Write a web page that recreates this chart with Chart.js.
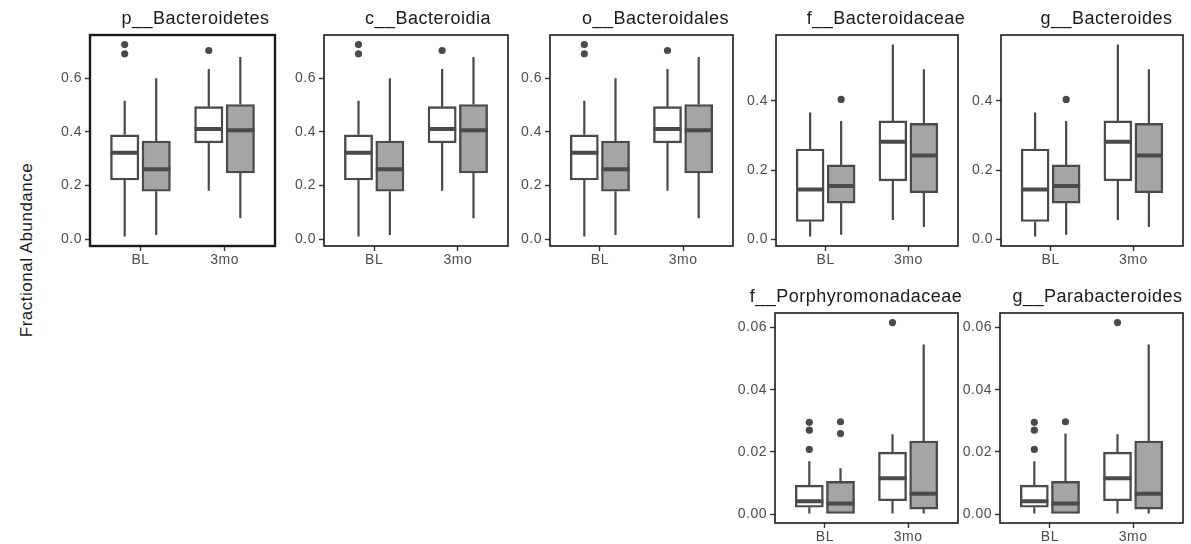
<!DOCTYPE html>
<html>
<head>
<meta charset="utf-8">
<title>Fractional Abundance boxplots</title>
<script src="https://cdn.jsdelivr.net/npm/chart.js@4.4.1/dist/chart.umd.min.js"></script>
<style>
  html, body { margin: 0; padding: 0; background: #fff; }
  body { position: relative; width: 1191px; height: 544px; overflow: hidden; }
  canvas { position: absolute; }
  #ylab {
    position: absolute; left: 27px; top: 250px;
    transform: translate(-50%, -50%) rotate(-90deg);
    font-family: "Liberation Sans", Arial, sans-serif; font-size: 17px;
    letter-spacing: 0.5px; white-space: nowrap; color: #1a1a1a;
  }
</style>
</head>
<body>
<div id="ylab">Fractional Abundance</div>
<script>
// ---- data ----
var groups = ['BL', '3mo'];
var taxa = ['p__Bacteroidetes', 'c__Bacteroidia', 'o__Bacteroidales', 'f__Bacteroidaceae',
            'g__Bacteroides', 'f__Porphyromonadaceae', 'g__Parabacteroides'];

// box stats per group: [lower whisker, Q1, median, Q3, upper whisker]
var bacteroidetesWhite = [[0.011, 0.221, 0.322, 0.389, 0.516], [0.181, 0.359, 0.411, 0.494, 0.634]];
var bacteroidetesGrey  = [[0.016, 0.179, 0.261, 0.366, 0.600], [0.079, 0.247, 0.406, 0.502, 0.679]];
var bacteroidetesWhiteOut = [[0.725, 0.691], [0.703]];
var bacteroidetesGreyOut  = [[], []];

var bacteroidesWhite = [[0.009, 0.052, 0.144, 0.261, 0.366], [0.056, 0.169, 0.282, 0.342, 0.562]];
var bacteroidesGrey  = [[0.014, 0.105, 0.154, 0.215, 0.342], [0.036, 0.135, 0.242, 0.335, 0.491]];
var bacteroidesWhiteOut = [[], []];
var bacteroidesGreyOut  = [[0.404], []];

var porphyroWhite = [[0.0002, 0.0022, 0.0041, 0.0093, 0.0170], [0.0002, 0.0043, 0.0115, 0.0199, 0.0257]];
var porphyroGrey  = [[0.0002, 0.0002, 0.0034, 0.0105, 0.0147], [0.0002, 0.0016, 0.0065, 0.0235, 0.0545]];
var porphyroWhiteOut = [[0.0295, 0.0270, 0.0208], [0.0616]];
var porphyroGreyOut  = [[0.0297, 0.0259], []];

var parabactGrey    = [[0.0002, 0.0002, 0.0034, 0.0105, 0.0259], [0.0002, 0.0016, 0.0065, 0.0235, 0.0545]];
var parabactGreyOut = [[0.0297], []];

var ticksWide = [0, 0.2, 0.4, 0.6];
var ticksMid  = [0, 0.2, 0.4];
var ticksLow  = [0, 0.02, 0.04, 0.06];

// which arrays go in which facet
var facets = [
  [bacteroidetesWhite, bacteroidetesGrey, bacteroidetesWhiteOut, bacteroidetesGreyOut, ticksWide, 1],
  [bacteroidetesWhite, bacteroidetesGrey, bacteroidetesWhiteOut, bacteroidetesGreyOut, ticksWide, 1],
  [bacteroidetesWhite, bacteroidetesGrey, bacteroidetesWhiteOut, bacteroidetesGreyOut, ticksWide, 1],
  [bacteroidesWhite, bacteroidesGrey, bacteroidesWhiteOut, bacteroidesGreyOut, ticksMid, 1],
  [bacteroidesWhite, bacteroidesGrey, bacteroidesWhiteOut, bacteroidesGreyOut, ticksMid, 1],
  [porphyroWhite, porphyroGrey, porphyroWhiteOut, porphyroGreyOut, ticksLow, 2],
  [porphyroWhite, parabactGrey, porphyroWhiteOut, parabactGreyOut, ticksLow, 2]
];

// panel rectangles on the page (l, t, r, b) + room on the right used to place the strip title
var frames = [
  {l: 90,   t: 35,  r: 275,  b: 246, extra: 66, border: 2.4},
  {l: 324,  t: 35,  r: 508,  b: 246, extra: 64, border: 1.6},
  {l: 550,  t: 35,  r: 733,  b: 246, extra: 68, border: 1.6},
  {l: 776,  t: 35,  r: 958,  b: 246, extra: 78, border: 1.6},
  {l: 1001, t: 35,  r: 1183, b: 246, extra: 69, border: 1.6},
  {l: 775,  t: 313, r: 958,  b: 523, extra: 19, border: 1.6},
  {l: 1000, t: 313, r: 1183, b: 523, extra: 52, border: 1.6}
];

var FONT = '"Liberation Sans", Arial, Helvetica, sans-serif';
var INK = '#4a4a4a';
var YW = 40, TOPH = 30, BOTH = 25;

var panelBorder = {
  id: 'panelBorder',
  afterDraw: function (chart, args, opts) {
    var a = chart.chartArea, ctx = chart.ctx;
    ctx.save();
    ctx.strokeStyle = '#1a1a1a';
    ctx.lineWidth = opts.width;
    ctx.strokeRect(a.left, a.top, a.right - a.left, a.bottom - a.top);
    ctx.restore();
  }
};

var spacing = {
  id: 'spacing',
  beforeUpdate: function (chart) { chart.ctx.letterSpacing = '0.5px'; },
  beforeDraw: function (chart) { chart.ctx.letterSpacing = '0.5px'; }
};

// ggplot style 5% expansion
function expand(lists) {
  var all = [];
  lists.forEach(function (l) { l.forEach(function (r) { all = all.concat(r); }); });
  var lo = Math.min.apply(null, all), hi = Math.max.apply(null, all), pad = (hi - lo) * 0.05;
  return [lo - pad, hi + pad];
}

function buildDatasets(f, thick) {
  var dodge = 0.1875, half = 0.16875;
  var series = [[f[0], f[2], -dodge, '#ffffff'], [f[1], f[3], dodge, '#a5a5a6']];
  var whiskers = [], medians = [], points = [], sets = [];
  series.forEach(function (s) {
    var boxes = [];
    s[0].forEach(function (b, i) {
      var x = i + 1 + s[2];
      boxes.push({x: x, y: [b[1], b[3]]});
      whiskers.push({x: x, y: b[0]}, {x: x, y: b[1]}, {x: x, y: null},
                    {x: x, y: b[3]}, {x: x, y: b[4]}, {x: x, y: null});
      medians.push({x: x - half, y: b[2]}, {x: x + half, y: b[2]}, {x: x, y: null});
      s[1][i].forEach(function (v) { points.push({x: x, y: v}); });
    });
    sets.push({
      type: 'bar', data: boxes, backgroundColor: s[3], borderColor: INK, borderWidth: 2.4,
      borderSkipped: false, barThickness: thick, grouped: false, order: 2
    });
  });
  sets.push({type: 'line', data: whiskers, borderColor: INK, borderWidth: 2.2, pointRadius: 0,
             spanGaps: false, order: 3});
  sets.push({type: 'line', data: medians, borderColor: INK, borderWidth: 4, pointRadius: 0,
             spanGaps: false, order: 0});
  sets.push({type: 'scatter', data: points, backgroundColor: INK, borderWidth: 0, pointRadius: 3.6,
             order: 1});
  return sets;
}

facets.forEach(function (f, k) {
  var fr = frames[k];
  var w = fr.r - fr.l, h = fr.b - fr.t;
  var cv = document.createElement('canvas');
  cv.width = YW + w + fr.extra;
  cv.height = TOPH + h + BOTH;
  cv.style.left = (fr.l - YW) + 'px';
  cv.style.top = (fr.t - TOPH) + 'px';
  document.body.appendChild(cv);

  var yr = expand([f[0], f[1], f[2], f[3]]);
  var ticks = f[4], dec = f[5];
  var tickFont = {family: FONT, size: 14};
  var tickGrid = {display: true, drawOnChartArea: false, drawTicks: true, tickLength: 5,
                  tickColor: '#333333', tickWidth: 1.4, offset: false};

  new Chart(cv, {
    type: 'bar',
    data: {datasets: buildDatasets(f, w * 0.3375 / 2.2)},
    options: {
      responsive: false,
      animation: false,
      devicePixelRatio: 1,
      events: [],
      layout: {padding: 0},
      plugins: {
        legend: {display: false},
        tooltip: {enabled: false},
        title: {
          display: true, text: taxa[k], fullSize: true, color: '#1a1a1a',
          font: {family: FONT, size: 18, weight: 'normal', lineHeight: 1.2},
          padding: {top: 3, bottom: 5.4}
        },
        panelBorder: {width: fr.border}
      },
      scales: {
        x: {
          type: 'linear', min: 0.4, max: 2.6, offset: false,
          afterBuildTicks: function (a) { a.ticks = groups.map(function (g, i) { return {value: i + 1}; }); },
          afterFit: function (a) { a.height = BOTH; },
          ticks: {
            autoSkip: false, maxRotation: 0, color: '#4d4d4d', font: tickFont, padding: 1,
            callback: function (v) { return groups[Math.round(v) - 1]; }
          },
          grid: tickGrid,
          border: {display: false}
        },
        y: {
          type: 'linear', min: yr[0], max: yr[1],
          afterBuildTicks: function (a) { a.ticks = ticks.map(function (v) { return {value: v}; }); },
          afterFit: function (a) { a.width = YW; },
          ticks: {
            autoSkip: false, color: '#4d4d4d', font: tickFont, padding: 3,
            callback: function (v) { return v.toFixed(dec); }
          },
          grid: tickGrid,
          border: {display: false}
        },
        pad: {
          type: 'linear', position: 'right', display: true,
          ticks: {display: false}, grid: {display: false, drawTicks: false}, border: {display: false},
          afterFit: function (a) { a.width = fr.extra; }
        }
      }
    },
    plugins: [panelBorder, spacing]
  });
});
</script>
</body>
</html>
